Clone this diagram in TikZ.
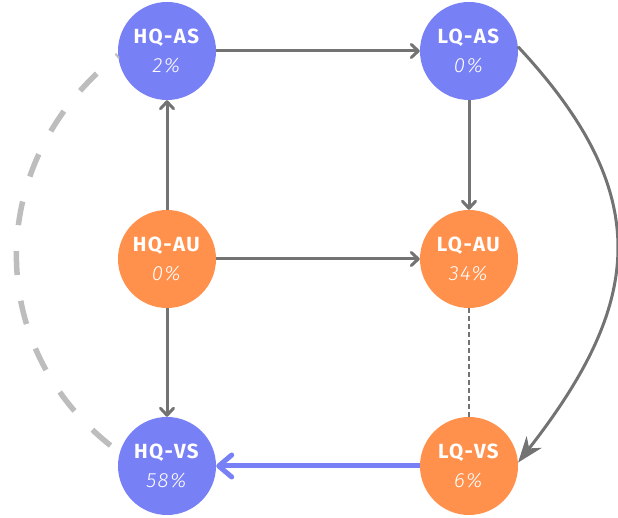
\documentclass[tikz,border=0pt]{standalone}
\usepackage{fontspec}
\setmainfont{Fira Sans}[LetterSpace=7, ItalicFont={Fira Sans Light Italic}]
\usetikzlibrary{arrows.meta}
\definecolor{ballblue}{RGB}{120,128,246}
\definecolor{ballorange}{RGB}{255,145,77}
\definecolor{arrowgray}{RGB}{115,115,115}
\definecolor{dashgray}{RGB}{189,189,189}
\tikzset{
	ball/.style={circle, minimum size=98pt, inner sep=0pt, text=white, align=center, font=\fontsize{20.5}{28.5}\selectfont},
	blueball/.style={ball, fill=ballblue},
	orangeball/.style={ball, fill=ballorange},
	flow/.style={draw=arrowgray, line width=3pt, -{Straight Barb[length=7pt,width=13pt,round]}},
	bigflow/.style={draw=ballblue, line width=5pt, -{Straight Barb[length=13pt,width=22pt,round]}},
}
\begin{document}
\begin{tikzpicture}[x=1pt,y=1pt]
		\useasboundingbox (0,0) rectangle (618,518);
		\def\xl{167}
		\def\xr{469}
		
		%Top row
		\node[blueball] (HQAS) at (\xl,467) {\textbf{HQ-AS}\\\textit{2\%}};
		\node[blueball] (LQAS) at (\xr,467) {\textbf{LQ-AS}\\\textit{0\%}};
		
		%Middle row
		\node[orangeball] (HQAU) at (\xl,259) {\textbf{HQ-AU}\\\textit{0\%}};
		\node[orangeball] (LQAU) at (\xr,259) {\textbf{LQ-AU}\\\textit{34\%}};
		
		%Bottom row
		\node[blueball] (HQVS) at (\xl,52) {\textbf{HQ-VS}\\\textit{58\%}};
		\node[orangeball] (LQVS) at (\xr,52) {\textbf{LQ-VS}\\\textit{6\%}};
		
		%Straight arrows
		\draw[flow] (HQAU) -- (HQAS);
		\draw[flow] (HQAS) -- (LQAS);
		\draw[flow] (LQAS) -- (LQAU);
		\draw[flow] (HQAU) -- (LQAU);
		\draw[flow] (HQAU) -- (HQVS);
		\draw[draw=arrowgray, line width=1.5pt, dash pattern=on 5pt off 3pt] (LQAU) -- (LQVS);
		\draw[bigflow] (LQVS) -- (HQVS);
		
		%Bent ones
		\draw[draw=arrowgray, line width=3pt, -{Stealth[length=26pt,width=19pt,inset=8pt]}] (LQAS.5) to[out=-47, in=52, looseness=1.25] (LQVS.4);
		\draw[draw=dashgray, line width=5.5pt, dash pattern=on 24pt off 26pt, dash phase=-28pt] (HQAS.185) to[out=218, in=144, looseness=1.1] (HQVS.164);
	\end{tikzpicture}
\end{document}
